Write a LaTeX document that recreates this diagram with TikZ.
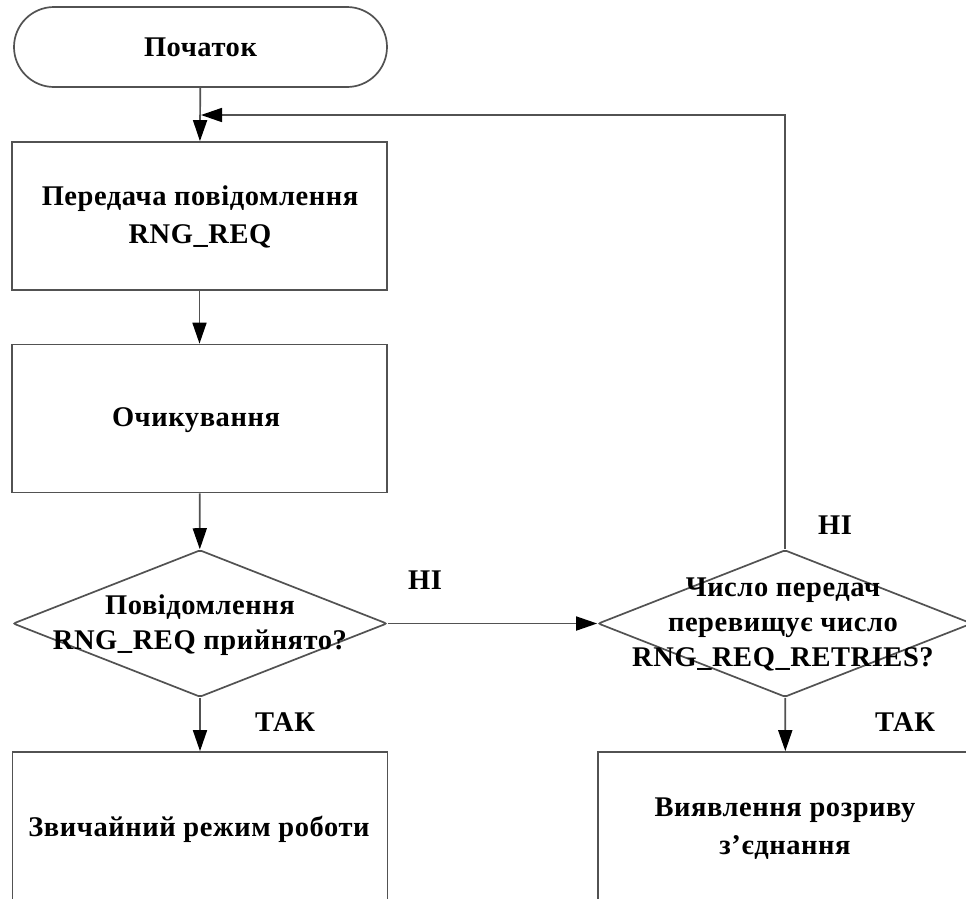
\documentclass[tikz,border=0pt]{standalone}
\usepackage{fontspec}
\setmainfont{Liberation Serif}[LetterSpace=2]
\usetikzlibrary{arrows.meta,shapes.geometric}
\begin{document}
\begin{tikzpicture}[x=1pt,y=-1pt,
  txt/.style={font=\fontsize{28.5}{36}\selectfont\bfseries, align=center, inner sep=0pt},
  line/.style={draw=black!68, line width=1.7pt},
  arr/.style={line, -{Triangle[length=21pt,width=14pt,color=black]}},
  procbox/.style={line, rectangle, minimum width=375pt, minimum height=148pt, inner sep=0pt},
  termbox/.style={line, rectangle, rounded corners=40pt, minimum width=373pt, minimum height=80pt, inner sep=0pt},
  decbox/.style={line, diamond, minimum width=374pt, minimum height=147pt, inner sep=0pt, rounded corners=2pt},
  lbl/.style={font=\fontsize{28.5}{36}\selectfont\bfseries, inner sep=0pt}
]
\useasboundingbox (0,0) rectangle (966,898);
\clip (0,0) rectangle (966,898);
\fill[white] (0,0) rectangle (966,898);

\node[termbox] (start) at (200.5,47) {};
\node[txt] (starttxt) at (start) {Початок};

\node[procbox] (b1) at (199.5,216) {};
\node[txt] (b1txt) at (200,217) {Передача повідомлення\\[2pt]RNG\_REQ};

\node[procbox] (b2) at (199.5,418.5) {};
\node[txt] (b2txt) at (196,420) {Очикування};

\node[decbox] (d1) at (200,623.5) {};
\node[txt] (d1txt) at (200,625) {Повідомлення\\[-1pt]RNG\_REQ прийнято?};

\node[decbox] (d2) at (785,623.5) {};
\node[txt] (d2txt) at (783,624) {Число передач\\[-1pt]перевищує число\\[-1pt]RNG\_REQ\_RETRIES?};

\node[procbox] (b3) at (200,826) {};
\node[txt] (b3txt) at (199,829) {Звичайний режим роботи};

\node[procbox] (b4) at (785.5,826) {};
\node[txt] (b4txt) at (785,829) {Виявлення розриву\\[2pt]з’єднання};

\node[lbl] (no1) at (425,580) {НІ};
\node[lbl] (no2) at (835,525) {НІ};
\node[lbl] (yes1) at (285,722) {ТАК};
\node[lbl] (yes2) at (905,722) {ТАК};

\coordinate (loopend) at (201,115);

\draw[arr] (start) -- (b1);
\draw[arr] (b1) -- (b2);
\draw[arr] (b2) -- (d1);
\draw[arr] (d1) -- (d2);
\draw[arr] (d1) -- (b3);
\draw[arr] (d2) -- (b4);
\draw[arr] (d2.north) |- (loopend);
\end{tikzpicture}
\end{document}
